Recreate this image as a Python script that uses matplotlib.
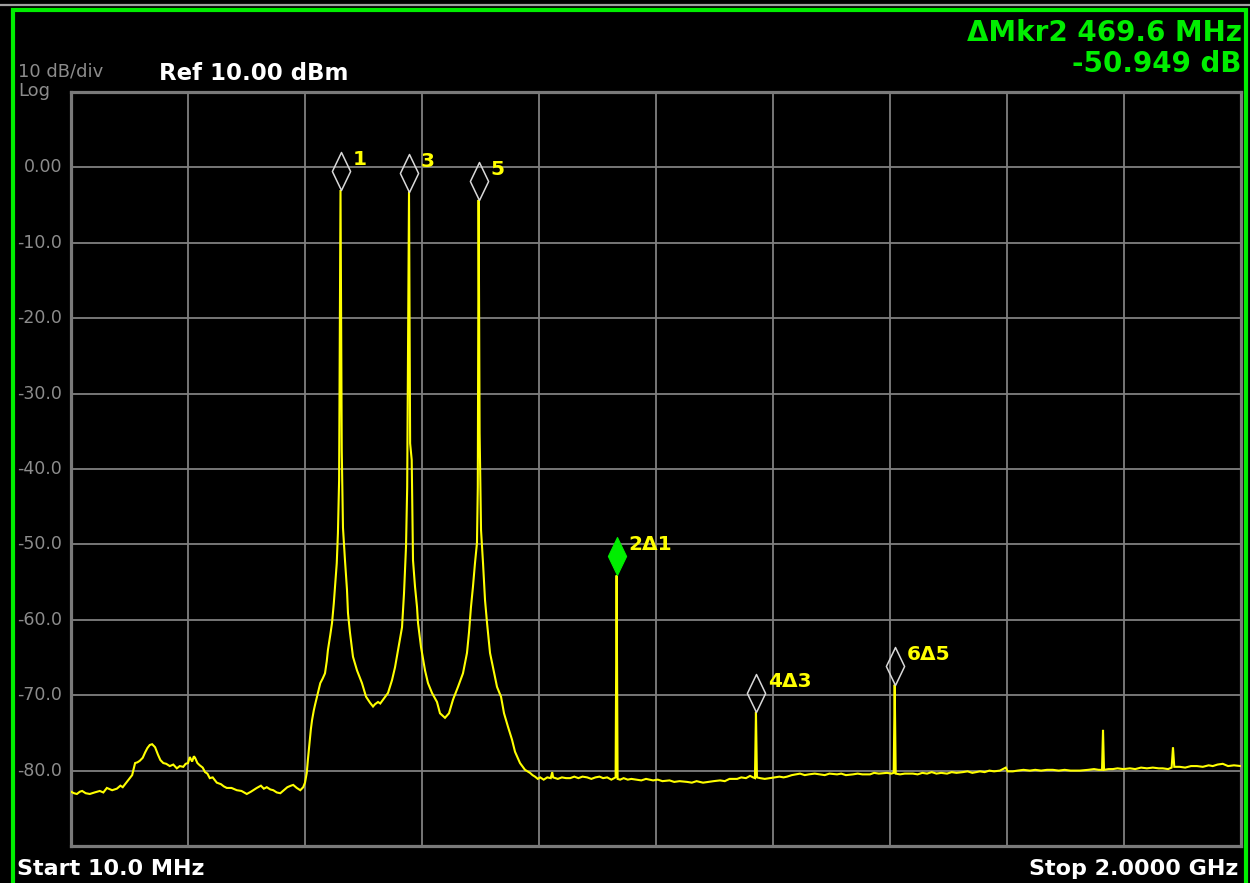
import numpy as np
import matplotlib.pyplot as plt
from matplotlib.path import Path
from matplotlib.patches import Rectangle
from matplotlib.lines import Line2D

# trace: frequency (MHz) / level (dBm)
freq = [10, 15, 20, 25, 29, 35, 42, 50, 59, 65, 71, 80, 88, 94, 98, 105, 110, 114, 119, 123,
        127, 132, 136, 140, 144, 148, 153, 158, 162, 167, 172, 178, 184, 190, 195, 201, 205, 209,
        212, 216, 219, 221, 225, 229, 234, 238, 242, 246, 251, 258, 265, 270, 275, 283, 292, 300,
        309, 316, 322, 326, 333, 338, 343, 349, 354, 360, 366, 372, 378, 384, 388, 394, 400, 405,
        408, 411, 413, 415, 418, 420, 423, 425, 429, 434, 438, 442, 445, 447, 451, 454, 457, 459,
        462, 464, 466, 468.4, 470.5, 472.6, 476, 479.4, 481.1, 484.5, 489.6, 496.4, 504.9, 511.8,
        518.6, 523.7, 527, 532.2, 536, 540.7, 549.2, 556.0, 561.1, 566.2, 573.0, 576.4, 579.8,
        581.8, 584.9, 586.8, 589.5, 591.7, 595.1, 598.5, 600.2, 605.3, 612.1, 617.2, 624.0, 632.5,
        637.6, 646.1, 652.9, 659.7, 668.2, 676.7, 683.5, 686.9, 690.3, 693.7, 697.1, 700.5, 701.9,
        703.3, 705.0, 707.4, 710.8, 714.2, 717.6, 722.7, 727.8, 734.6, 741.4, 746.5, 753.3, 760.1,
        765.2, 773.7, 782.2, 790.7, 795, 799.2, 804, 808, 814, 820, 826, 828.5, 830, 838, 845, 852,
        859, 866, 873, 880, 888, 895, 902, 909, 915, 922, 929, 936.3, 938.0, 939.7, 944, 950, 957,
        963, 972, 980, 988, 1000, 1008, 1016, 1028, 1036, 1045, 1058, 1066, 1074, 1085, 1094, 1103,
        1114, 1122, 1130, 1143, 1150, 1158, 1165, 1170, 1173.3, 1175.0, 1176.7, 1182, 1190, 1199,
        1207, 1215, 1222, 1228, 1236, 1243, 1250, 1258, 1265, 1275, 1284, 1292, 1300, 1313, 1320,
        1328, 1340, 1348, 1356, 1369, 1376, 1384, 1398, 1405, 1409.3, 1411.0, 1412.7, 1420, 1428,
        1442, 1450, 1458, 1466, 1474, 1482, 1490, 1500, 1508, 1516, 1527, 1535, 1543, 1556, 1564,
        1572, 1580, 1590, 1600, 1603, 1612, 1620, 1630, 1641, 1650, 1660, 1670, 1680, 1690, 1700,
        1710, 1726, 1740, 1750, 1758, 1763.6, 1765.3, 1767.0, 1775, 1782, 1790, 1800, 1811, 1820,
        1830, 1840, 1850, 1860, 1867, 1876, 1882, 1884.3, 1886.5, 1896, 1905, 1915, 1925, 1935,
        1945, 1952, 1960, 1969, 1978, 1988, 2000]
level = [-82.8, -83.0, -83.1, -82.8, -82.7, -83.0, -83.1, -82.9, -82.7, -82.9, -82.3, -82.6, -82.4,
         -82.0, -82.2, -81.5, -81.0, -80.6, -79.0, -78.9, -78.7, -78.3, -77.6, -77.0, -76.6, -76.5,
         -76.9, -77.9, -78.6, -79.0, -79.1, -79.4, -79.2, -79.7, -79.4, -79.5, -79.1, -79.0, -78.2,
         -78.8, -78.1, -78.3, -79.0, -79.3, -79.6, -80.2, -80.4, -81.0, -80.9, -81.6, -81.8, -82.1,
         -82.3, -82.3, -82.6, -82.7, -83.1, -82.8, -82.5, -82.3, -82.0, -82.4, -82.2, -82.5, -82.6,
         -82.9, -83.0, -82.6, -82.2, -82.0, -81.9, -82.3, -82.6, -82.2, -81.6, -80.3, -78.5, -76.9,
         -74.5, -73.3, -72.0, -71.3, -70.0, -68.4, -67.8, -67.1, -65.5, -64.0, -62.0, -60.4, -57.8,
         -55.6, -52.5, -48.5, -41.5, -3.0, -37.5, -47.8, -52.1, -56.0, -59.1, -61.7, -64.9, -66.7,
         -68.4, -70.2, -71.0, -71.5, -71.2, -70.9, -71.1, -70.6, -69.7, -68.0, -66.3, -64.0, -61.0,
         -56.5, -50.3, -42.4, -3.2, -36.6, -38.8, -52.1, -55.6, -58.3, -60.4, -63.6, -66.7, -68.4,
         -69.7, -70.9, -72.4, -73.0, -72.4, -70.6, -68.9, -67.1, -64.4, -61.7, -58.3, -55.6, -52.5,
         -49.8, -42.4, -4.3, -35.2, -48.1, -52.5, -57.4, -60.4, -64.4, -66.3, -68.9, -70.2, -72.4,
         -74.2, -75.9, -77.5, -79.0, -79.9, -80.3, -80.6, -80.8, -81.1, -80.9, -81.2, -80.9, -81.0,
         -80.2, -80.9, -81.1, -80.9, -81.0, -81.0, -80.8, -81.0, -80.8, -80.9, -81.1, -80.9, -80.8,
         -81.0, -80.9, -81.2, -80.9, -54.1, -81.1, -81.2, -81.0, -81.2, -81.1, -81.2, -81.3, -81.1,
         -81.3, -81.2, -81.4, -81.3, -81.5, -81.4, -81.5, -81.6, -81.4, -81.6, -81.5, -81.4, -81.3,
         -81.4, -81.1, -81.1, -80.9, -81.0, -80.7, -80.9, -81.0, -72.2, -80.9, -81.0, -81.1, -81.0,
         -80.9, -80.8, -80.9, -80.8, -80.6, -80.5, -80.4, -80.6, -80.5, -80.4, -80.5, -80.6, -80.4,
         -80.5, -80.4, -80.6, -80.5, -80.4, -80.5, -80.5, -80.3, -80.4, -80.3, -80.4, -80.3, -68.6,
         -80.4, -80.5, -80.4, -80.4, -80.5, -80.3, -80.4, -80.2, -80.4, -80.3, -80.4, -80.2, -80.3,
         -80.2, -80.1, -80.3, -80.1, -80.2, -80.0, -80.1, -80.0, -79.6, -80.1, -80.1, -80.0, -79.9,
         -80.0, -79.9, -80.0, -79.9, -79.9, -80.0, -79.9, -80.0, -80.0, -79.9, -79.8, -79.9, -79.9,
         -74.6, -79.9, -79.8, -79.8, -79.7, -79.8, -79.7, -79.8, -79.6, -79.7, -79.6, -79.7, -79.7,
         -79.8, -79.6, -76.9, -79.5, -79.5, -79.6, -79.4, -79.4, -79.5, -79.3, -79.4, -79.2, -79.1,
         -79.4, -79.3, -79.4]

# markers
mkr_freq = [468.4, 938.0, 584.9, 1175.0, 703.3, 1411.0]
mkr_level = [-3.0, -54.1, -3.2, -72.2, -4.3, -68.6]
mkr_label = ['1', '2Δ1', '3', '4Δ3', '5', '6Δ5']
active_mkr = 1

start_mhz = 10.0
stop_mhz = 2000.0
ref_dbm = 10.0
db_div = 10
ytick_vals = [0, -10, -20, -30, -40, -50, -60, -70, -80]
ytick_txt = ['0.00', '-10.0', '-20.0', '-30.0', '-40.0', '-50.0', '-60.0', '-70.0', '-80.0']

W, H = 1250, 883
yellow = '#ffff00'
green = '#00ee00'
gray = '#808080'

fig = plt.figure(figsize=(W / 100, H / 100), dpi=100, facecolor='black')
ax = fig.add_axes([71 / W, 1 - 846 / H, 1170 / W, 754 / H], facecolor='black')

ax.set_xlim(start_mhz, stop_mhz)
ax.set_ylim(ref_dbm - 10 * db_div, ref_dbm)
ax.set_xticks(np.linspace(start_mhz, stop_mhz, 11))
ax.set_xticklabels([])
ax.set_yticks(np.arange(ref_dbm - 10 * db_div, ref_dbm + 1, db_div))
ax.set_yticklabels([])
ax.grid(True, color=gray, lw=1.3)
ax.tick_params(length=0)
for s in ax.spines.values():
    s.set_color('#7a7a7a')
    s.set_linewidth(2.3)

for v, t in zip(ytick_vals, ytick_txt):
    ax.annotate(t, (0, v), xycoords=('axes fraction', 'data'), xytext=(-6.5, 0),
                textcoords='offset points', ha='right', va='center',
                color='#8c8c8c', fontsize=12.5)

ax.plot(freq, level, color=yellow, lw=1.5, zorder=3, solid_joinstyle='miter')

# diamond with its bottom tip on the data point
diamond = Path([(0, 0), (0.24, 0.5), (0, 1), (-0.24, 0.5), (0, 0)],
               [Path.MOVETO, Path.LINETO, Path.LINETO, Path.LINETO, Path.CLOSEPOLY])
for i, (f, l, lab) in enumerate(zip(mkr_freq, mkr_level, mkr_label)):
    if i == active_mkr:
        ax.plot(f, l, marker=diamond, ms=54.7, mfc=green, mec=green, mew=0.8, zorder=5)
    else:
        ax.plot(f, l, marker=diamond, ms=54.7, mfc='none', mec='#d8d8d8', mew=1.1, zorder=5)
    ax.annotate(lab, (f, l), xytext=(8.6, 18), textcoords='offset points',
                ha='left', va='baseline', color=yellow, fontsize=14.5,
                fontweight='bold', zorder=6)

# screen texts
fig.text(18 / W, 1 - 77 / H, '10 dB/div', color='#8c8c8c', fontsize=13, va='baseline')
fig.text(18 / W, 1 - 96 / H, 'Log', color='#8c8c8c', fontsize=13, va='baseline')
fig.text(159 / W, 1 - 80 / H, 'Ref 10.00 dBm', color='white', fontsize=16.5,
         fontweight='bold', va='baseline')
fig.text(1242 / W, 1 - 41 / H, 'ΔMkr2 469.6 MHz', color=green, fontsize=20,
         fontweight='bold', ha='right', va='baseline')
fig.text(1242 / W, 1 - 72.5 / H, '-50.949 dB', color=green, fontsize=20,
         fontweight='bold', ha='right', va='baseline')
fig.text(17 / W, 1 - 875 / H, 'Start 10.0 MHz', color='white', fontsize=16,
         fontweight='bold', va='baseline')
fig.text(1238 / W, 1 - 875 / H, 'Stop 2.0000 GHz', color='white', fontsize=16,
         fontweight='bold', ha='right', va='baseline')

# window frame
fig.add_artist(Line2D([0, 1], [1 - 5 / H, 1 - 5 / H], color='#a0a0a0', lw=1.6,
                      transform=fig.transFigure))
fig.add_artist(Rectangle((13 / W, -0.1), (1245.5 - 13) / W, 1.1 - 10.5 / H, fill=False,
                         edgecolor=green, lw=3, transform=fig.transFigure))

fig.savefig('out.png', dpi=100, facecolor='black')
